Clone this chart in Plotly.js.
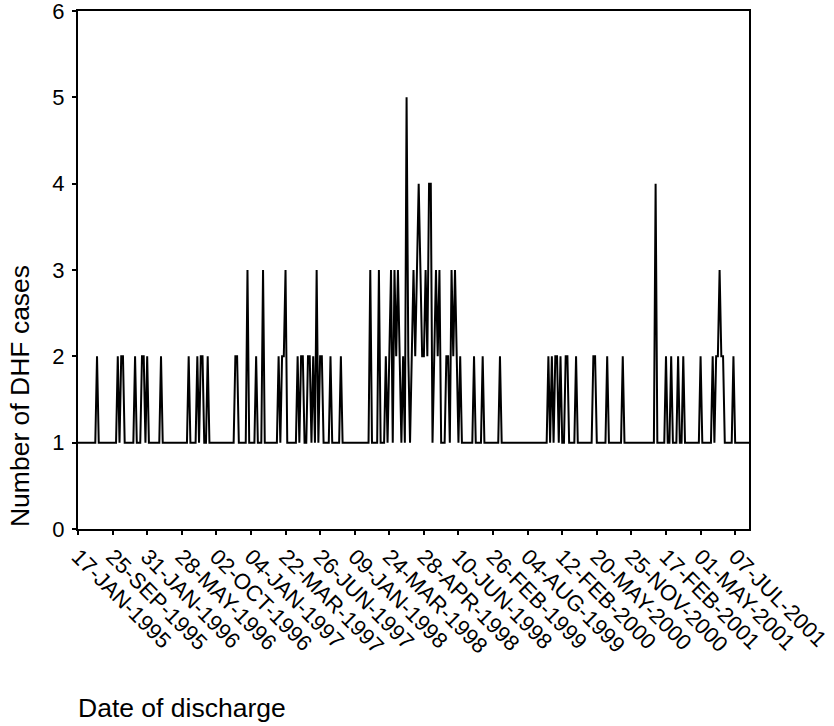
<!DOCTYPE html>
<html>
<head>
<meta charset="utf-8">
<script src="https://cdn.plot.ly/plotly-3.0.1.min.js"></script>
<style>
html, body { margin: 0; padding: 0; background: #ffffff; }
#chart { width: 834px; height: 726px; }
</style>
</head>
<body>
<div id="chart"></div>
<script>
// Number of DHF cases per discharge date (one value per discharge date, in order)
var casesRow00 = [1,1,1,1,1,1,1,1,1,1, 1,2,1,1,1,1,1,1,1,1];
var casesRow01 = [1,1,1,2,1,2,2,1,1,1, 1,1,1,2,1,1,1,2,2,1];
var casesRow02 = [2,1,1,1,1,1,1,1,2,1, 1,1,1,1,1,1,1,1,1,1];
var casesRow03 = [1,1,1,1,2,1,1,1,1,2, 1,2,2,1,1,2,1,1,1,1];
var casesRow04 = [1,1,1,1,1,1,1,1,1,1, 1,2,2,1,1,1,1,1,3,1];
var casesRow05 = [1,1,1,2,1,1,1,3,1,1, 1,1,1,1,1,1,2,1,2,2];
var casesRow06 = [3,1,1,1,1,1,1,2,1,2, 2,1,1,2,2,1,2,1,3,1];
var casesRow07 = [2,2,1,1,1,1,2,1,1,1, 1,1,2,1,1,1,1,1,1,1];
var casesRow08 = [1,1,1,1,1,1,1,1,1,3, 1,1,1,1,3,1,1,1,2,1];
var casesRow09 = [2,3,1,3,2,3,2,1,2,1, 5,2,1,2,3,2,3,4,3,2];
var casesRow10 = [2,3,2,4,4,1,2,3,2,3, 1,1,1,2,2,1,3,2,3,2];
var casesRow11 = [1,2,1,1,1,1,1,1,1,2, 1,1,1,1,2,1,1,1,1,1];
var casesRow12 = [1,1,1,1,2,1,1,1,1,1, 1,1,1,1,1,1,1,1,1,1];
var casesRow13 = [1,1,1,1,1,1,1,1,1,1, 1,1,2,1,2,1,2,2,1,2];
var casesRow14 = [1,1,2,2,1,1,1,1,2,1, 1,1,1,1,1,1,1,1,2,2];
var casesRow15 = [1,1,1,1,1,1,2,1,1,1, 1,1,1,1,1,2,1,1,1,1];
var casesRow16 = [1,1,1,1,1,1,1,1,1,1, 1,1,1,1,4,1,1,1,1,1];
var casesRow17 = [2,1,1,2,1,1,1,2,1,1, 2,1,1,1,1,1,1,1,1,1];
var casesRow18 = [2,1,1,1,1,1,1,2,1,2, 2,3,2,2,1,1,1,1,1,2];
var casesRow19 = [1,1,1,1,1,1,1,1,1];

var cases = [].concat(casesRow00, casesRow01, casesRow02, casesRow03, casesRow04,
  casesRow05, casesRow06, casesRow07, casesRow08, casesRow09, casesRow10,
  casesRow11, casesRow12, casesRow13, casesRow14, casesRow15, casesRow16,
  casesRow17, casesRow18, casesRow19);

// Category labels shown on the axis (every 20th discharge date)
var tickLabels = ["17-JAN-1995","25-SEP-1995","31-JAN-1996","28-MAY-1996","02-OCT-1996",
  "04-JAN-1997","22-MAR-1997","26-JUN-1997","09-JAN-1998","24-MAR-1998",
  "28-APR-1998","10-JUN-1998","26-FEB-1999","04-AUG-1999","12-FEB-2000",
  "20-MAY-2000","25-NOV-2000","17-FEB-2001","01-MAY-2001","07-JUL-2001"];
var tickStep = 20;

var xIdx = cases.map(function (_, i) { return i; });
var tickVals = tickLabels.map(function (_, i) { return i * tickStep; });

var fontFam = "Liberation Sans, Arial, sans-serif";

var trace = {
  type: "scatter",
  mode: "lines",
  x: xIdx,
  y: cases,
  line: { color: "#000000", width: 2 },
  hoverinfo: "x+y"
};

var layout = {
  width: 834,
  height: 726,
  margin: { l: 78, r: 85, t: 11, b: 197, pad: 0 },
  paper_bgcolor: "#ffffff",
  plot_bgcolor: "#ffffff",
  showlegend: false,
  font: { family: fontFam, color: "#000000" },
  xaxis: {
    range: [0, cases.length - 1],
    tickmode: "array",
    tickvals: tickVals,
    ticktext: tickLabels,
    tickangle: 45,
    ticks: "outside",
    ticklen: 4,
    tickwidth: 2,
    tickcolor: "#000000",
    showline: true,
    linecolor: "#000000",
    linewidth: 2,
    mirror: true,
    showgrid: false,
    zeroline: false,
    ticklabeloverflow: "allow",
    tickfont: { family: fontFam, size: 22, color: "#000000" }
  },
  yaxis: {
    range: [0, 6],
    tickmode: "linear",
    tick0: 0,
    dtick: 1,
    ticks: "outside",
    ticklen: 4,
    tickwidth: 2,
    tickcolor: "#000000",
    showline: true,
    linecolor: "#000000",
    linewidth: 2,
    mirror: true,
    showgrid: false,
    zeroline: false,
    ticklabelstandoff: 3,
    ticklabeloverflow: "allow",
    tickfont: { family: fontFam, size: 22, color: "#000000" }
  },
  annotations: [
    {
      text: "Number of DHF cases",
      xref: "paper", yref: "paper",
      x: -0.0864, y: 0,
      xanchor: "center", yanchor: "bottom",
      textangle: -90,
      showarrow: false,
      font: { family: fontFam, size: 26.5, color: "#000000" }
    },
    {
      text: "Date of discharge",
      xref: "paper", yref: "paper",
      x: -0.003, y: -0.3456,
      xanchor: "left", yanchor: "middle",
      showarrow: false,
      font: { family: fontFam, size: 26.5, color: "#000000" }
    }
  ]
};

Plotly.newPlot("chart", [trace], layout, { displayModeBar: false, staticPlot: true });
</script>
</body>
</html>
